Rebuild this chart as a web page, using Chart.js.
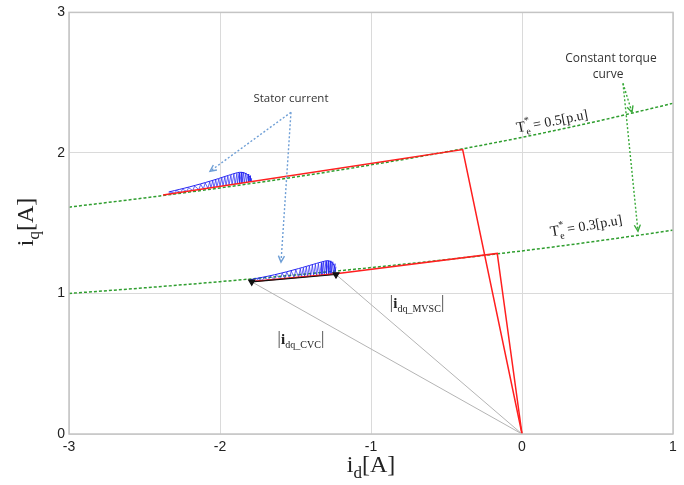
<!DOCTYPE html>
<html>
<head>
<meta charset="utf-8">
<script src="https://cdn.jsdelivr.net/npm/chart.js@4.4.0/dist/chart.umd.min.js"></script>
<style>
  html, body { margin: 0; padding: 0; background: #ffffff; }
  #wrap { width: 684px; height: 485px; }
</style>
</head>
<body>
<div id="wrap"><canvas id="c" width="684" height="485"></canvas></div>
<script>
// Axis ticks
const xTicks = [-3, -2, -1, 0, 1];
const yTicks = [0, 1, 2, 3];

// Constant torque curves (id, iq)
const curveId = [-3, -2.5, -2, -1.5, -1, -0.5, 0, 0.5, 1];
const torque05Iq = [1.614, 1.680, 1.751, 1.829, 1.915, 2.008, 2.111, 2.226, 2.353];
const torque03Iq = [1.000, 1.040, 1.084, 1.132, 1.184, 1.241, 1.303, 1.373, 1.450];

// Current reference paths (red)
const refHighId = [-2.377, -0.393, 0];
const refHighIq = [1.700, 2.024, 0];
const refLowId = [-1.79, -1.232, -0.164, 0];
const refLowIq = [1.085, 1.140, 1.285, 0];

// Operating points: CVC and MVSC
const opId = [-1.790, -1.232];
const opIq = [1.083, 1.135];

// Stator current trajectories (blue), T* = 0.5
const statorHighId = [-2.34,-2.328,-2.30,-2.288,-2.26,-2.248,-2.22,-2.208,-2.18,-2.168,-2.14,-2.128,-2.11,-2.098,-2.08,-2.068,-2.06,-2.048,-2.04,-2.028,-2.02,-2.008,-2.00,-1.988,-1.98,-1.968,-1.96,-1.948,-1.94,-1.928,-1.92,-1.908,-1.90,-1.888,-1.885,-1.873,-1.87,-1.858,-1.855,-1.843,-1.84,-1.828,-1.825,-1.813,-1.81,-1.798,-1.80,-1.79];
const statorHighIq = [1.706,1.722,1.713,1.732,1.719,1.742,1.726,1.753,1.732,1.765,1.739,1.777,1.744,1.786,1.749,1.795,1.752,1.801,1.755,1.808,1.758,1.815,1.762,1.821,1.765,1.828,1.768,1.835,1.772,1.842,1.775,1.849,1.778,1.855,1.780,1.859,1.783,1.862,1.785,1.862,1.788,1.858,1.790,1.850,1.793,1.838,1.794,1.820];
const statorHighEdgeId = [-2.34, -2.2, -2.06, -1.96, -1.9, -1.87, -1.84, -1.81, -1.795, -1.79];
const statorHighEdgeIq = [1.722, 1.759, 1.801, 1.835, 1.855, 1.862, 1.858, 1.838, 1.815, 1.795];

// Stator current trajectories (blue), T* = 0.3
const statorLowId = [-1.80,-1.788,-1.76,-1.748,-1.72,-1.708,-1.68,-1.668,-1.64,-1.628,-1.60,-1.588,-1.57,-1.558,-1.54,-1.528,-1.51,-1.498,-1.48,-1.468,-1.46,-1.448,-1.44,-1.428,-1.42,-1.408,-1.40,-1.388,-1.38,-1.368,-1.36,-1.348,-1.34,-1.328,-1.325,-1.313,-1.31,-1.298,-1.295,-1.283,-1.28,-1.268,-1.265,-1.253,-1.25,-1.238,-1.24,-1.232];
const statorLowIq = [1.084,1.098,1.088,1.106,1.092,1.114,1.096,1.123,1.100,1.133,1.104,1.144,1.107,1.152,1.110,1.160,1.113,1.168,1.116,1.177,1.118,1.183,1.120,1.189,1.121,1.196,1.123,1.202,1.125,1.208,1.127,1.214,1.129,1.220,1.131,1.225,1.132,1.229,1.134,1.232,1.135,1.232,1.137,1.226,1.138,1.212,1.139,1.190];
const statorLowEdgeId = [-1.80, -1.64, -1.48, -1.38, -1.31, -1.285, -1.26, -1.245, -1.235];
const statorLowEdgeIq = [1.098, 1.133, 1.177, 1.208, 1.229, 1.233, 1.222, 1.200, 1.160];

const pts = (xs, ys) => xs.map((x, i) => ({ x: x, y: ys[i] }));

const GREEN = '#2f9e2f';
const RED = '#ff1f1f';
const BLUE = '#2222f2';
const GRAY = '#b4b4b4';

const SERIF = '"Liberation Serif", "Times New Roman", serif';
const SANS = '"Liberation Sans", Arial, sans-serif';

// Draw a sequence of text runs (for sub/superscripts), centred at cx on baseline cy
function drawRuns(ctx, runs, cx, cy) {
  let w = 0;
  runs.forEach(r => {
    ctx.font = r.font;
    r.w = ctx.measureText(r.t).width;
    if (!r.overlay) w += r.w;
  });
  let x = cx - w / 2;
  let prevX = x;
  runs.forEach(r => {
    ctx.font = r.font;
    ctx.fillStyle = r.color || '#222';
    const drawX = r.overlay ? prevX : x;
    ctx.fillText(r.t, drawX, cy + (r.dy || 0));
    if (!r.overlay) { prevX = x; x += r.w; }
  });
}

function dottedArrow(ctx, x0, y0, x1, y1, color) {
  ctx.save();
  ctx.strokeStyle = color;
  ctx.lineWidth = 1.4;
  ctx.setLineDash([2, 2]);
  ctx.beginPath();
  ctx.moveTo(x0, y0);
  ctx.lineTo(x1, y1);
  ctx.stroke();
  ctx.setLineDash([]);
  const a = Math.atan2(y1 - y0, x1 - x0);
  const L = 7, s = 0.45;
  ctx.beginPath();
  ctx.moveTo(x1 - L * Math.cos(a - s), y1 - L * Math.sin(a - s));
  ctx.lineTo(x1, y1);
  ctx.lineTo(x1 - L * Math.cos(a + s), y1 - L * Math.sin(a + s));
  ctx.stroke();
  ctx.restore();
}

const annotations = {
  id: 'annotations',
  afterDatasetsDraw(chart) {
    const ctx = chart.ctx;
    const xs = chart.scales.x, ys = chart.scales.y;
    const px = v => xs.getPixelForValue(v);
    const py = v => ys.getPixelForValue(v);
    const area = chart.chartArea;

    // plot frame
    ctx.save();
    ctx.strokeStyle = '#c4c4c4';
    ctx.lineWidth = 1.5;
    ctx.strokeRect(area.left, area.top, area.right - area.left, area.bottom - area.top);
    ctx.restore();

    ctx.save();
    ctx.textBaseline = 'alphabetic';

    // Stator current callout
    ctx.font = '11.5px "Open Sans", "Noto Sans", sans-serif';
    ctx.fillStyle = '#333';
    ctx.textAlign = 'center';
    ctx.fillText('Stator current', px(-1.53), py(2.36));
    dottedArrow(ctx, px(-1.530), py(2.289), px(-2.066), py(1.870), '#6f9fd6');
    dottedArrow(ctx, px(-1.530), py(2.289), px(-1.596), py(1.223), '#6f9fd6');

    // Constant torque callout
    ctx.font = '12px "Open Sans", "Noto Sans", sans-serif';
    ctx.fillText('Constant torque', px(0.589), py(2.645));
    ctx.fillText('curve', px(0.570), py(2.535));
    dottedArrow(ctx, px(0.669), py(2.495), px(0.728), py(2.289), '#3aaa3a');
    dottedArrow(ctx, px(0.669), py(2.495), px(0.768), py(1.443), '#3aaa3a');

    ctx.textAlign = 'left';
    // Torque labels along the curves
    const torqueLabel = (val, cx, cy, ang) => {
      ctx.save();
      ctx.translate(cx, cy);
      ctx.rotate(ang * Math.PI / 180);
      drawRuns(ctx, [
        { t: 'T', font: '15px ' + SERIF },
        { t: 'e', font: '10px ' + SERIF, dy: 4 },
        { t: '*', font: '10px ' + SERIF, dy: -7, overlay: true },
        { t: ' = ' + val + '[p.u]', font: '14px ' + SERIF }
      ], 0, 0);
      ctx.restore();
    };
    torqueLabel('0.5', px(0.205), py(2.195), -11);
    torqueLabel('0.3', px(0.430), py(1.450), -10);

    // Current magnitude labels
    const magLabel = (sub, cx, cy) => {
      drawRuns(ctx, [
        { t: '|', font: '19px ' + SERIF, color: '#555' },
        { t: 'i', font: 'bold 15px ' + SERIF },
        { t: sub, font: '10px ' + SERIF, dy: 4 },
        { t: '|', font: '19px ' + SERIF, color: '#555' }
      ], cx, cy);
    };
    magLabel('dq_MVSC', px(-0.695), py(0.895));
    magLabel('dq_CVC', px(-1.464), py(0.640));

    // Axis titles
    drawRuns(ctx, [
      { t: 'i', font: '24px ' + SERIF },
      { t: 'd', font: '17px ' + SERIF, dy: 6 },
      { t: '[A]', font: '24px ' + SERIF }
    ], (area.left + area.right) / 2, 472);

    ctx.save();
    ctx.translate(33, 222);
    ctx.rotate(-Math.PI / 2);
    drawRuns(ctx, [
      { t: 'i', font: '24px ' + SERIF },
      { t: 'q', font: '17px ' + SERIF, dy: 6 },
      { t: '[A]', font: '24px ' + SERIF }
    ], 0, 0);
    ctx.restore();

    ctx.restore();
  }
};

const lineDs = (data, color, width, order, extra) => Object.assign({
  data: data,
  showLine: true,
  borderColor: color,
  backgroundColor: color,
  borderWidth: width,
  pointRadius: 0,
  fill: false,
  order: order
}, extra || {});

new Chart(document.getElementById('c'), {
  type: 'scatter',
  data: {
    datasets: [
      lineDs(pts(curveId, torque05Iq), GREEN, 1.5, 6, { borderDash: [3, 2], cubicInterpolationMode: 'monotone' }),
      lineDs(pts(curveId, torque03Iq), GREEN, 1.5, 6, { borderDash: [3, 2], cubicInterpolationMode: 'monotone' }),
      lineDs([{ x: 0, y: 0 }, { x: opId[0], y: opIq[0] }], GRAY, 1, 5),
      lineDs([{ x: 0, y: 0 }, { x: opId[1], y: opIq[1] }], GRAY, 1, 5),
      lineDs(pts(statorHighId, statorHighIq), BLUE, 0.7, 4),
      lineDs(pts(statorHighEdgeId, statorHighEdgeIq), BLUE, 1, 4, { tension: 0.4 }),
      lineDs(pts(statorLowId, statorLowIq), BLUE, 0.7, 4),
      lineDs(pts(statorLowEdgeId, statorLowEdgeIq), BLUE, 1, 4, { tension: 0.4 }),
      lineDs(pts(refHighId, refHighIq), RED, 1.5, 3),
      lineDs(pts(refLowId, refLowIq), RED, 1.5, 3),
      lineDs(pts(opId, opIq), '#111', 1.2, 1, {
        pointRadius: 3.5, pointStyle: 'triangle', rotation: 180,
        pointBackgroundColor: '#111', pointBorderColor: '#111'
      })
    ]
  },
  options: {
    responsive: false,
    animation: false,
    devicePixelRatio: 1,
    layout: { padding: { left: 0, right: 11, top: 12, bottom: 0 } },
    plugins: { legend: { display: false }, tooltip: { enabled: false } },
    scales: {
      x: {
        type: 'linear', min: -3, max: 1,
        afterBuildTicks: s => { s.ticks = xTicks.map(v => ({ value: v })); },
        afterFit: s => { s.height = 51; },
        grid: { color: '#dadada', lineWidth: 1, drawTicks: false },
        border: { display: false },
        ticks: { color: '#222', font: { family: SANS, size: 14 }, padding: 5, maxRotation: 0 }
      },
      y: {
        type: 'linear', min: 0, max: 3,
        afterBuildTicks: s => { s.ticks = yTicks.map(v => ({ value: v })); },
        afterFit: s => { s.width = 69; },
        grid: { color: '#dadada', lineWidth: 1, drawTicks: false },
        border: { display: false },
        ticks: { color: '#222', font: { family: SANS, size: 14 }, padding: 4 }
      }
    }
  },
  plugins: [annotations]
});
</script>
</body>
</html>
